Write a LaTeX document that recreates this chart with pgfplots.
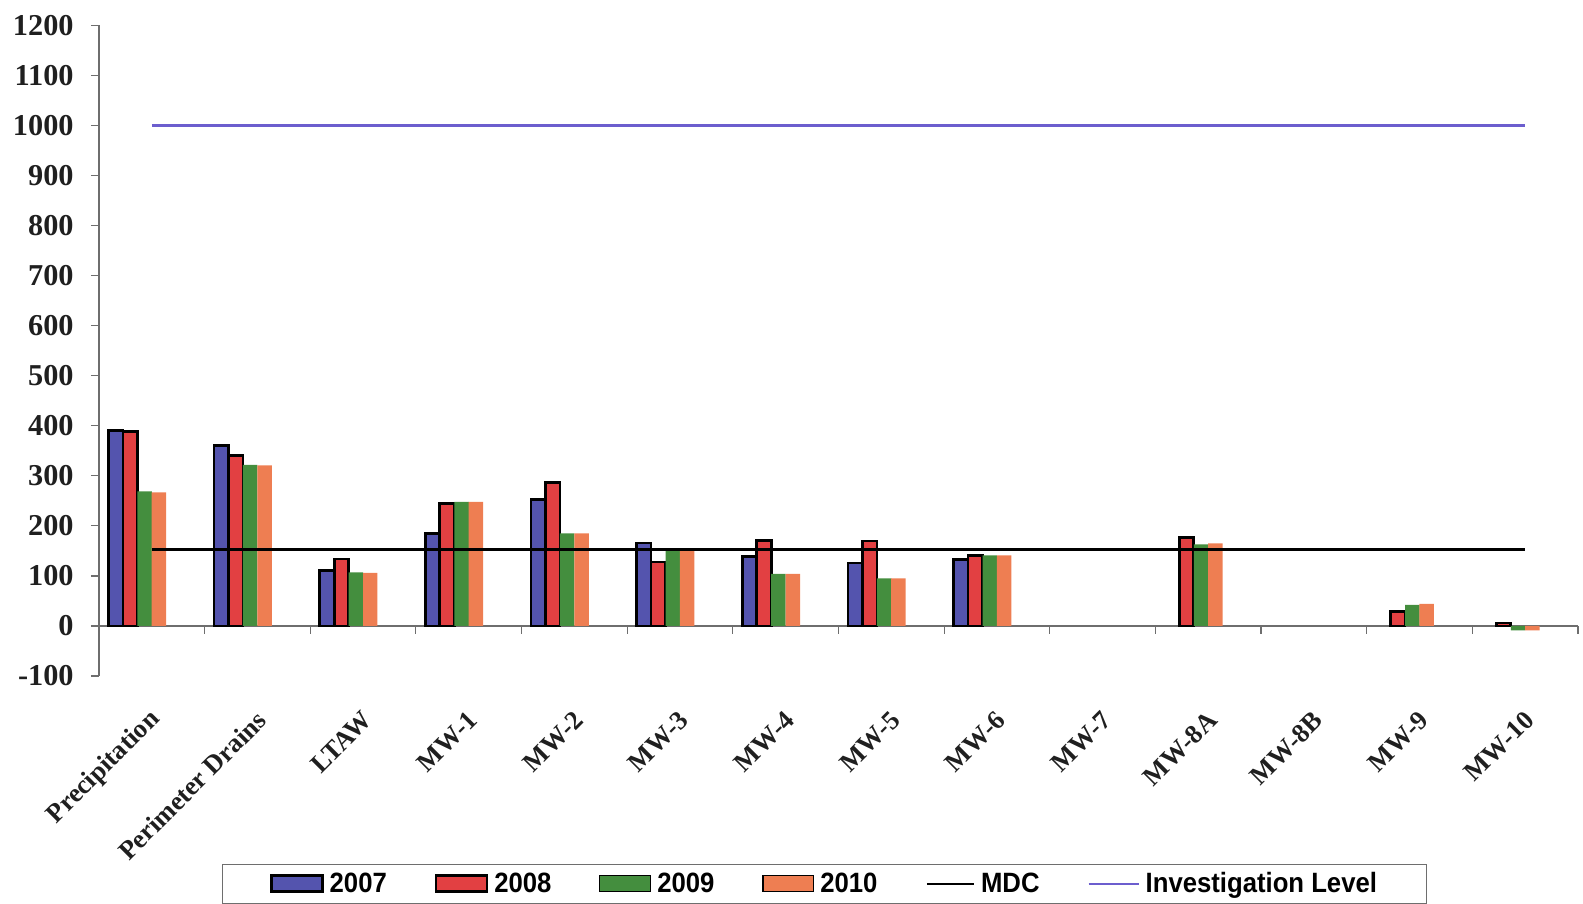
\documentclass[border=0pt]{standalone}
\usepackage{fontspec}
\setmainfont{Liberation Serif}
\newfontfamily\legfont[FakeStretch=0.92]{Liberation Sans}
\usepackage{pgfplots}
\pgfplotsset{compat=1.18}
\definecolor{c2007}{RGB}{84,84,174}
\definecolor{c2008}{RGB}{226,64,66}
\definecolor{c2009}{RGB}{68,142,62}
\definecolor{c2010}{RGB}{238,126,82}
\definecolor{cinv}{RGB}{108,94,206}
\definecolor{axgray}{RGB}{110,110,110}
\pgfplotsset{
  barlegend/.style={legend image code/.code={\draw[##1] (0pt,-3.75pt) rectangle (25.5pt,4.25pt);}},
  linelegend/.style={legend image code/.code={\draw[##1] (0pt,0pt) -- (#1,0pt);}},
}
\begin{document}
\begin{tikzpicture}
\begin{axis}[
  scale only axis, width=741.5pt, height=326.3pt,
  xmin=-0.5, xmax=13.5, ymin=-100, ymax=1200,
  axis y line*=left, axis x line*=middle,
  axis line style={draw=axgray, line width=0.7pt},
  hide obscured x ticks=false, hide obscured y ticks=false,
  tick align=outside, major tick length=4pt,
  tick style={draw=axgray, line width=0.6pt},
  ytick={-100,0,100,200,300,400,500,600,700,800,900,1000,1100,1200},
  yticklabels={-100,0,100,200,300,400,500,600,700,800,900,1000,1100,1200},
  yticklabel style={font=\bfseries\fontsize{15.2}{17}\selectfont, text=black!88, inner xsep=6.5pt, inner ysep=7.5pt, xshift=-2pt},
  xtick={-0.5,0.5,1.5,2.5,3.5,4.5,5.5,6.5,7.5,8.5,9.5,10.5,11.5,12.5,13.5},
  xticklabels={},
  extra x ticks={0,1,2,3,4,5,6,7,8,9,10,11,12,13},
  extra x tick labels={Precipitation,Perimeter Drains,LTAW,MW-1,MW-2,MW-3,MW-4,MW-5,MW-6,MW-7,MW-8A,MW-8B,MW-9,MW-10},
  extra x tick style={major tick length=0pt},
  xticklabel style={font=\bfseries\fontsize{13.3}{15}\selectfont, text=black!88, inner sep=0pt, anchor=east, xshift=2.3pt, yshift=-45pt, rotate=45},
  legend style={at={(0.4906,-0.35)}, anchor=south, legend columns=6,
    draw=axgray, line width=0.6pt,
    font=\legfont\bfseries\fontsize{14}{16}\selectfont,
    inner xsep=24pt, inner ysep=2.8pt,
    nodes={inner sep=1pt},
    /tikz/every odd column/.append style={column sep=2pt},
    /tikz/every even column/.append style={column sep=23pt}},
]
\addplot[ybar, bar width=0.137, bar shift=-0.342, fill=c2007, draw=black, line width=1.35pt, barlegend]
  coordinates {(0,390) (1,360) (2,111) (3,185) (4,253) (5,166) (6,139) (7,126) (8,133)};
\addlegendentry{2007}
\addplot[ybar, bar width=0.137, bar shift=-0.205, fill=c2008, draw=black, line width=1.35pt, barlegend]
  coordinates {(0,388) (1,341) (2,134) (3,244) (4,287) (5,128) (6,171) (7,170) (8,141) (10,177) (12,29) (13,6)};
\addlegendentry{2008}
\addplot[ybar, bar width=0.137, bar shift=-0.068, fill=c2009, draw=none, barlegend]
  coordinates {(0,269) (1,322) (2,107) (3,248) (4,185) (5,151) (6,104) (7,95) (8,141) (10,163) (12,42) (13,-9)};
\addlegendentry{2009}
\addplot[ybar, bar width=0.137, bar shift=0.068, fill=c2010, draw=none, barlegend]
  coordinates {(0,267) (1,321) (2,106) (3,248) (4,185) (5,151) (6,104) (7,95) (8,141) (10,165) (12,44) (13,-9)};
\addlegendentry{2010}
\addplot[black, line width=1.4pt, linelegend=23.5pt]
  coordinates {(0,153) (13,153)};
\addlegendentry{MDC}
\addplot[cinv, line width=1.2pt, linelegend=25pt]
  coordinates {(0,1000) (13,1000)};
\addlegendentry{Investigation Level}
\end{axis}
\end{tikzpicture}
\end{document}
